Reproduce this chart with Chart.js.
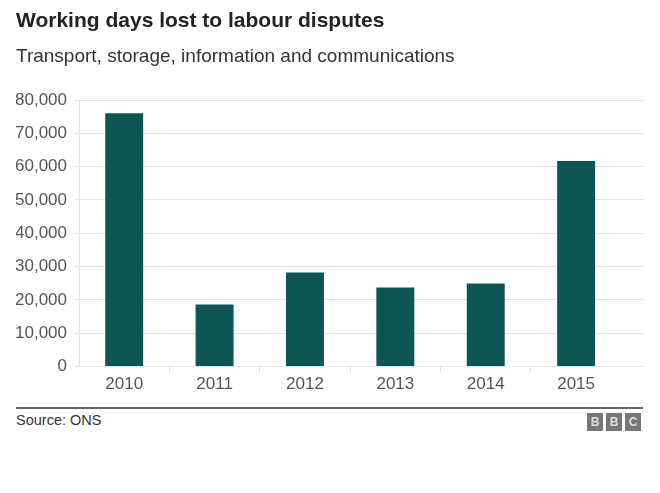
<!DOCTYPE html>
<html>
<head>
<meta charset="utf-8">
<script src="https://cdn.jsdelivr.net/npm/chart.js@4"></script>
<style>
    body { margin: 0; background: #fff; font-family: "Liberation Sans", Arial, sans-serif; }
    #wrap { position: relative; width: 660px; height: 400px; }
    #footer { position: relative; width: 660px; height: 93px; }
    #rule { position: absolute; left: 16px; top: 7px; width: 627px; height: 2px; background: #666; }
    #source { position: absolute; left: 16px; top: 12px; font-size: 14.5px; color: #333; }
    #bbc { position: absolute; left: 587px; top: 13px; display: flex; gap: 3px; }
    #bbc span { width: 16px; height: 18px; background: #777; color: #ddd; font-size: 12px; font-weight: bold; text-align: center; line-height: 18px; }
</style>
</head>
<body>
<div id="wrap"><canvas id="chart"></canvas></div>
<div id="footer">
    <div id="rule"></div>
    <div id="source">Source: ONS</div>
    <div id="bbc"><span>B</span><span>B</span><span>C</span></div>
</div>
<script>
    const years = ['2010', '2011', '2012', '2013', '2014', '2015'];
    const daysLost = [76000, 18600, 28200, 23700, 24900, 61700];
    const yTicks = [0, 10000, 20000, 30000, 40000, 50000, 60000, 70000, 80000];

    const barColour = '#0c5753';
    const gridColour = '#e3e3e3';

    // bars sit at index positions, extra room on the right like the original
    const points = years.map((y, i) => ({ x: i, y: daysLost[i] }));

    // only the gaps between years get a small tick mark
    const isGapTick = ctx => ctx.tick && !Number.isInteger(ctx.tick.value) && ctx.tick.value > 0 && ctx.tick.value < 5;

    new Chart(document.getElementById('chart'), {
        type: 'bar',
        data: {
            datasets: [{
                data: points,
                backgroundColor: barColour,
                barPercentage: 0.84, // ticks every half step, so this is ~0.42 of a year
                categoryPercentage: 1
            }]
        },
        options: {
            responsive: true,
            maintainAspectRatio: false,
            animation: false,
            layout: { padding: { left: 16, right: 17, top: 6, bottom: 3 } },
            plugins: {
                legend: { display: false },
                tooltip: { enabled: false },
                title: {
                    display: true,
                    text: 'Working days lost to labour disputes',
                    align: 'start',
                    color: '#222',
                    font: { family: 'Liberation Sans', size: 21, weight: 'bold' },
                    padding: { top: 3, bottom: 6 }
                },
                subtitle: {
                    display: true,
                    text: 'Transport, storage, information and communications',
                    align: 'start',
                    color: '#333',
                    font: { family: 'Liberation Sans', size: 19 },
                    padding: { top: 5, bottom: 32 }
                }
            },
            scales: {
                x: {
                    type: 'linear',
                    min: -0.5,
                    max: 5.74,
                    offset: false,
                    afterBuildTicks: axis => {
                        const t = [];
                        for (let v = -0.5; v <= 5.5; v += 0.5) t.push({ value: v });
                        axis.ticks = t;
                    },
                    grid: {
                        offset: false,
                        drawOnChartArea: false,
                        tickLength: 6,
                        tickColor: ctx => isGapTick(ctx) ? '#e0e0e0' : 'rgba(0,0,0,0)'
                    },
                    border: { color: '#e6e6e6' },
                    ticks: {
                        autoSkip: false,
                        maxRotation: 0,
                        padding: 2,
                        color: '#555',
                        font: { family: 'Liberation Sans', size: 17 },
                        callback: v => Number.isInteger(v) ? years[v] : ''
                    }
                },
                y: {
                    min: 0,
                    max: 80000,
                    afterBuildTicks: axis => { axis.ticks = yTicks.map(v => ({ value: v })); },
                    afterFit: axis => { axis.width = 63; },
                    grid: { color: gridColour, tickLength: 4 },
                    border: { color: gridColour },
                    ticks: {
                        padding: 8,
                        color: '#555',
                        font: { family: 'Liberation Sans', size: 17 },
                        callback: v => v.toLocaleString('en-GB')
                    }
                }
            }
        }
    });
</script>
</body>
</html>
